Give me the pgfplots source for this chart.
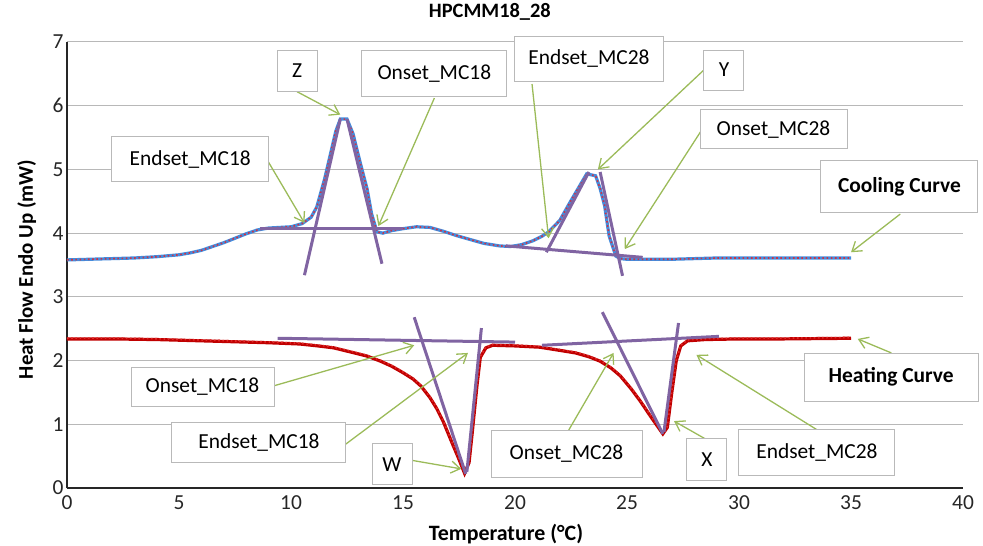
\documentclass[border=0pt]{standalone}
\usepackage{pgfplots}
\pgfplotsset{compat=1.18}
\usepackage{pgfplotstable}
\usepackage{fontspec}
\setmainfont{Carlito}
\usetikzlibrary{arrows.meta}
\definecolor{cblue}{RGB}{70,140,220}
\definecolor{cdot}{RGB}{205,50,70}
\definecolor{hred}{RGB}{192,0,0}
\definecolor{hdot}{RGB}{225,40,40}
\definecolor{tpurple}{RGB}{128,100,162}
\definecolor{agreen}{RGB}{155,187,89}
\definecolor{boxgray}{RGB}{185,185,185}

\pgfplotstableread{
x y
0 3.58
1 3.59
2 3.60
3 3.61
4 3.63
5 3.66
5.5 3.69
6 3.73
6.5 3.79
7 3.85
7.5 3.92
8 3.99
8.5 4.05
9 4.08
9.5 4.09
10 4.10
10.5 4.15
10.9 4.25
11.15 4.41
11.5 4.85
11.8 5.30
12.0 5.60
12.2 5.79
12.5 5.79
12.77 5.56
13.08 5.12
13.4 4.69
13.6 4.30
13.84 4.02
14.1 4.00
14.5 4.04
15.0 4.07
15.6 4.10
16.2 4.09
16.8 4.03
17.4 3.96
18.0 3.90
18.6 3.84
19.3 3.80
19.8 3.79
20.3 3.82
20.8 3.88
21.2 3.95
21.5 4.02
22.0 4.20
22.45 4.48
22.8 4.69
23.2 4.93
23.6 4.90
23.8 4.70
24.0 4.43
24.2 3.96
24.5 3.64
24.7 3.60
25 3.59
26 3.59
27 3.59
28 3.60
29 3.61
30 3.61
31 3.61
32 3.61
33 3.61
34 3.61
35 3.61
}\cooling

\pgfplotstableread{
x y
0 2.34
2 2.34
4 2.33
7 2.30
9 2.28
10.4 2.26
11.2 2.23
11.9 2.20
12.6 2.14
13.4 2.07
14 1.99
14.5 1.91
15 1.81
15.45 1.71
15.8 1.60
16.2 1.42
16.5 1.25
16.8 1.04
17.2 0.70
17.5 0.45
17.75 0.23
17.95 0.40
18.1 0.90
18.3 1.60
18.45 2.05
18.7 2.20
19 2.24
20 2.23
21.1 2.21
22 2.16
22.7 2.12
23.3 2.06
23.8 1.99
24.3 1.88
24.7 1.76
25.2 1.55
25.6 1.36
26.1 1.10
26.6 0.85
26.8 0.95
27.0 1.50
27.2 2.00
27.4 2.23
27.7 2.31
28.5 2.33
30 2.34
32 2.34
35 2.35
}\heating

\begin{document}
\begin{tikzpicture}[
  box/.style={draw=boxgray, fill=white, line width=1bp, inner sep=0pt,
    font=\fontsize{21.5}{25}\selectfont},
  garrow/.style={agreen, line width=1.3bp, -{Straight Barb[length=9bp,width=12bp,line width=1.3bp]}},
]
\begin{axis}[
  scale only axis, width=896bp, height=446bp,
  xmin=0, xmax=40, ymin=0, ymax=7,
  xtick={0,5,...,40}, ytick={0,1,...,7},
  axis lines=left, axis line style={-, line width=1.5bp, black!85},
  ymajorgrids, grid style={line width=1bp, black!28},
  major tick length=0pt,
  tick label style={font=\fontsize{21.5}{25}\selectfont, text=black!85},
  xticklabel style={yshift=-4bp},
  /pgf/number format/assume math mode=true,
  title={HPCMM18\_28},
  title style={font=\fontsize{20.5}{24}\selectfont\bfseries, at={(rel axis cs:0.472,1)}, anchor=base, yshift=19bp},
  xlabel={Temperature (°C)},
  xlabel style={font=\fontsize{22}{26}\selectfont\bfseries, at={(rel axis cs:0.49,0)}, anchor=base, yshift=-52bp},
  ylabel={Heat Flow Endo Up (mW)},
  ylabel style={font=\fontsize{21}{25}\selectfont\bfseries, at={(rel axis cs:-0.038,0.49)}, anchor=base, rotate=0},
  clip=false,
]
% cooling curve
\addplot[cblue, line width=3.2bp] table {\cooling};
\addplot[cdot, line width=1.6bp, dash pattern=on 1.6bp off 2.6bp] table {\cooling};
% heating curve
\addplot[hred, line width=3.2bp] table {\heating};
\addplot[hdot, line width=1.6bp, dash pattern=on 1.6bp off 2.6bp, yshift=0.8bp] table {\heating};

% tangent lines (cooling)
\addplot[tpurple, line width=3bp] coordinates {(8.6,4.08) (15.0,4.08)};
\addplot[tpurple, line width=3bp] coordinates {(10.6,3.34) (12.2,5.79)};
\addplot[tpurple, line width=3bp] coordinates {(12.5,5.79) (14.06,3.52)};
\addplot[tpurple, line width=3bp] coordinates {(19.6,3.80) (25.7,3.62)};
\addplot[tpurple, line width=3bp] coordinates {(21.4,3.70) (23.3,4.96)};
\addplot[tpurple, line width=3bp] coordinates {(23.8,4.96) (24.8,3.33)};
% tangent lines (heating)
\addplot[tpurple, line width=3bp] coordinates {(9.4,2.35) (20.0,2.29)};
\addplot[tpurple, line width=3bp] coordinates {(15.5,2.68) (17.8,0.22)};
\addplot[tpurple, line width=3bp] coordinates {(17.85,0.25) (18.5,2.51)};
\addplot[tpurple, line width=3bp] coordinates {(21.2,2.24) (29.1,2.38)};
\addplot[tpurple, line width=3bp] coordinates {(23.9,2.76) (26.6,0.85)};
\addplot[tpurple, line width=3bp] coordinates {(26.65,0.88) (27.3,2.59)};

% arrows
\draw[garrow] (axis cs:10.27,6.22) -- (axis cs:12.2,5.86);
\draw[garrow] (axis cs:16.4,6.12) -- (axis cs:13.9,4.11);
\draw[garrow] (axis cs:8.97,5.13) -- (axis cs:10.6,4.16);
\draw[garrow] (axis cs:20.76,6.34) -- (axis cs:21.5,3.92);
\draw[garrow] (axis cs:28.4,6.55) -- (axis cs:23.7,5.0);
\draw[garrow] (axis cs:28.3,5.6) -- (axis cs:24.9,3.75);
\draw[garrow] (axis cs:37.2,4.3) -- (axis cs:35.0,3.7);
\draw[garrow] (axis cs:36.8,2.12) -- (axis cs:35.3,2.34);
\draw[garrow] (axis cs:9.2,1.6) -- (axis cs:15.5,2.24);
\draw[garrow] (axis cs:12.45,0.69) -- (axis cs:17.9,2.12);
\draw[garrow] (axis cs:15.3,0.44) -- (axis cs:17.6,0.3);
\draw[garrow] (axis cs:22.4,0.91) -- (axis cs:24.4,2.12);
\draw[garrow] (axis cs:28.6,0.75) -- (axis cs:27.1,1.05);
\draw[garrow] (axis cs:33.5,0.91) -- (axis cs:28.1,2.09);

% callout boxes
\node[box, minimum width=40bp, minimum height=41bp] at (axis cs:10.27,6.55) {Z};
\node[box, minimum width=145bp, minimum height=46bp] at (axis cs:16.4,6.5) {Onset\_MC18};
\node[box, minimum width=157bp, minimum height=45bp] at (axis cs:5.5,5.16) {Endset\_MC18};
\node[box, minimum width=149bp, minimum height=45bp] at (axis cs:23.3,6.74) {Endset\_MC28};
\node[box, minimum width=40bp, minimum height=40bp] at (axis cs:29.33,6.56) {Y};
\node[box, minimum width=147bp, minimum height=39bp] at (axis cs:31.54,5.63) {Onset\_MC28};
\node[box, minimum width=157bp, minimum height=52bp, font=\fontsize{21.5}{25}\selectfont\bfseries] at (axis cs:37.16,4.73) {Cooling Curve};
\node[box, minimum width=174bp, minimum height=48bp, font=\fontsize{21.5}{25}\selectfont\bfseries] at (axis cs:36.79,1.74) {Heating Curve};
\node[box, minimum width=143bp, minimum height=39bp] at (axis cs:6.05,1.59) {Onset\_MC18};
\node[box, minimum width=174bp, minimum height=40bp] at (axis cs:8.57,0.71) {Endset\_MC18};
\node[box, minimum width=40bp, minimum height=41bp] at (axis cs:14.51,0.37) {W};
\node[box, minimum width=151bp, minimum height=47bp] at (axis cs:22.30,0.54) {Onset\_MC28};
\node[box, minimum width=40bp, minimum height=42bp] at (axis cs:28.57,0.44) {X};
\node[box, minimum width=156bp, minimum height=46bp] at (axis cs:33.48,0.55) {Endset\_MC28};
\end{axis}
\pgfresetboundingbox
\path[use as bounding box] ([shift={(-67bp,-58bp)}]current axis.south west) rectangle ([shift={(20bp,42bp)}]current axis.north east);
\end{tikzpicture}
\end{document}
